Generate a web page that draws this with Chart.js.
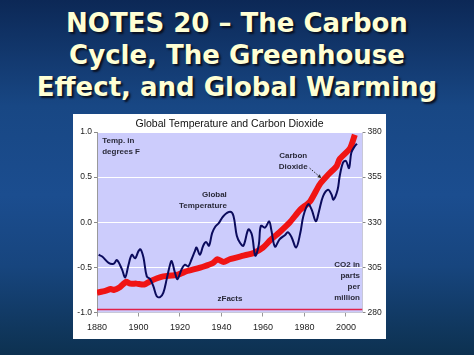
<!DOCTYPE html>
<html>
<head>
<meta charset="utf-8">
<script src="https://cdn.jsdelivr.net/npm/chart.js@4/dist/chart.umd.min.js"></script>
<style>
  html, body { margin: 0; padding: 0; }
  body {
    width: 474px; height: 355px; overflow: hidden; position: relative;
    background: linear-gradient(180deg, #0c2856 0%, #184784 30%, #1b4d8f 55%, #17457e 75%, #0d3150 100%);
  }
  #title {
    position: absolute; left: 0; top: 8px; width: 474px; text-align: center;
    font-family: "DejaVu Sans", sans-serif; font-weight: bold; font-size: 26px;
    line-height: 31.8px; color: #ffffd4; text-shadow: 2px 2px 2px #0a1020;
  }
  #box {
    position: absolute; left: 73px; top: 114px; width: 313px; height: 225px;
    background: #ffffff;
  }
  canvas { display: block; }
</style>
</head>
<body>
<div id="title">NOTES 20 – The Carbon<br>Cycle, The Greenhouse<br>Effect, and Global Warming</div>
<div id="box"><canvas id="c" width="313" height="225"></canvas></div>
<script>
// ---- data ----
const tempYears = [1880.8,1882.5,1885.6,1888,1889.6,1892,1893.6,1895.2,1896.8,1898.4,1900,1901,1902.4,1904,1905.6,1907.2,1908.8,1910.4,1912,1913.6,1915.2,1916,1917.6,1918.8,1920.8,1922.4,1924,1925.6,1927.2,1928,1929.6,1931.2,1932.6,1934,1935.5,1937,1938.7,1941,1944.2,1945.8,1947.4,1949,1950.6,1953,1954.7,1956.3,1958,1959,1961,1963,1964,1965.8,1968,1970.7,1972,1973.7,1976,1978,1979.5,1981.8,1983.5,1985.5,1987,1989,1991.4,1993,1994,1996,1997,1998.6,2000,2001.5,2002.6,2004.2,2005.3];
const tempValues = [-0.36,-0.38,-0.45,-0.46,-0.42,-0.52,-0.61,-0.47,-0.36,-0.40,-0.32,-0.30,-0.39,-0.60,-0.63,-0.71,-0.82,-0.83,-0.78,-0.63,-0.47,-0.43,-0.56,-0.63,-0.52,-0.47,-0.49,-0.41,-0.32,-0.28,-0.36,-0.26,-0.22,-0.26,-0.12,-0.05,-0.01,0.07,0.115,0.07,-0.15,-0.23,-0.26,-0.08,-0.14,-0.37,-0.25,-0.04,-0.06,0.01,-0.08,-0.27,-0.19,-0.14,-0.11,-0.16,-0.28,-0.12,0.07,0.20,0.14,0.01,0.12,0.29,0.36,0.31,0.25,0.36,0.51,0.66,0.68,0.60,0.77,0.84,0.87];

const co2Years = [1880,1884,1886.7,1888,1891,1894,1896,1899,1902.7,1906,1909,1912,1916,1919,1923.5,1927,1931.5,1936,1938,1941,1944,1950.6,1955.5,1960,1963.5,1968,1973,1978,1982.7,1987.4,1992,1995.5,1997,2002,2004.3];
const co2Values = [291,292,293,292.5,294,297,296,296,295.5,297.5,299,300,300.5,301,303,304,305.5,307.5,309.5,308,309.5,311.5,313,316,320,324.5,330,337,341.5,351,357,361,365,371,378.5];

const refYears = [1880, 2008];
const refValues = [281.7, 281.7];

const xTickValues = [1880,1900,1920,1940,1960,1980,2000];
const tempTickValues = [-1.0,-0.5,0.0,0.5,1.0];
const co2TickValues = [280,305,330,355,380];

const chartTitle = 'Global Temperature and Carbon Dioxide';
const seriesNames = ['Global Temperature', 'Carbon Dioxide', 'Pre-industrial'];

// ---- chart ----
const toXY = (xs, ys) => xs.map((x, i) => ({ x: x, y: ys[i] }));

const notes = [
  { lines: ['Temp. in', 'degrees F'], x: 1882.5, y: 0.905, align: 'left' },
  { lines: ['Global', 'Temperature'], x: 1942.6, y: 0.30, align: 'right' },
  { lines: ['Carbon', 'Dioxide'], x: 1974.6, y: 0.74, align: 'center' },
  { lines: ['CO2 in', 'parts', 'per', 'million'], x: 2006.8, y: -0.475, align: 'right' },
  { lines: ['zFacts'], x: 1944.1, y: -0.853, align: 'center' }
];
const arrow = { x0: 1982.5, y0: 0.60, x1: 1988.1, y1: 0.49 };

const bgPlugin = {
  id: 'plotBg',
  beforeDraw(chart) {
    const a = chart.chartArea, ctx = chart.ctx;
    ctx.save();
    ctx.fillStyle = '#ccccfc';
    ctx.fillRect(a.left, a.top, a.right - a.left, a.bottom - a.top);
    ctx.restore();
  }
};

const notePlugin = {
  id: 'notes',
  afterDatasetsDraw(chart) {
    const ctx = chart.ctx, xs = chart.scales.x, ys = chart.scales.y;
    ctx.save();
    ctx.fillStyle = '#2a2a3a';
    ctx.font = 'bold 8px "Liberation Sans", Arial, sans-serif';
    ctx.textBaseline = 'middle';
    notes.forEach(n => {
      const px = xs.getPixelForValue(n.x), py = ys.getPixelForValue(n.y);
      ctx.textAlign = n.align;
      n.lines.forEach((t, i) => ctx.fillText(t, px, py + i * 11));
    });
    const ax0 = xs.getPixelForValue(arrow.x0), ay0 = ys.getPixelForValue(arrow.y0);
    const ax1 = xs.getPixelForValue(arrow.x1), ay1 = ys.getPixelForValue(arrow.y1);
    ctx.strokeStyle = '#222';
    ctx.lineWidth = 1;
    ctx.setLineDash([1.5, 1.5]);
    ctx.beginPath(); ctx.moveTo(ax0, ay0); ctx.lineTo(ax1, ay1); ctx.stroke();
    ctx.setLineDash([]);
    const ang = Math.atan2(ay1 - ay0, ax1 - ax0);
    ctx.fillStyle = '#222';
    ctx.beginPath();
    ctx.moveTo(ax1, ay1);
    ctx.lineTo(ax1 - 4 * Math.cos(ang - 0.5), ay1 - 4 * Math.sin(ang - 0.5));
    ctx.lineTo(ax1 - 4 * Math.cos(ang + 0.5), ay1 - 4 * Math.sin(ang + 0.5));
    ctx.closePath(); ctx.fill();
    ctx.restore();
  }
};

const tickFont = { family: '"Liberation Sans", Arial, sans-serif', size: 8.5 };

new Chart(document.getElementById('c'), {
  type: 'line',
  data: {
    datasets: [
      { label: seriesNames[0], data: toXY(tempYears, tempValues), yAxisID: 'y',
        borderColor: '#0b0b5c', borderWidth: 2, pointRadius: 0, tension: 0.35 },
      { label: seriesNames[1], data: toXY(co2Years, co2Values), yAxisID: 'y2',
        borderColor: '#f01414', borderWidth: 6, pointRadius: 0, tension: 0.2 },
      { label: seriesNames[2], data: toXY(refYears, refValues), yAxisID: 'y2',
        borderColor: '#e0204a', borderWidth: 1.5, pointRadius: 0 }
    ]
  },
  options: {
    responsive: false, animation: false,
    layout: { padding: 0 },
    plugins: {
      legend: { display: false }, tooltip: { enabled: false },
      title: { display: true, text: chartTitle, color: '#111',
        font: { family: '"Liberation Sans", Arial, sans-serif', size: 10.5, weight: 'normal' },
        padding: { top: 4, bottom: 1.4 } }
    },
    scales: {
      x: { type: 'linear', min: 1880, max: 2008,
        afterBuildTicks: s => { s.ticks = xTickValues.map(v => ({ value: v })); },
        afterFit: s => { s.height = 26.5; },
        ticks: { color: '#222', font: { family: '"Liberation Sans", Arial, sans-serif', size: 9 }, padding: 6, maxRotation: 0,
          callback: v => String(v) },
        grid: { drawOnChartArea: false, drawTicks: true, tickLength: 4, color: '#999' },
        border: { color: '#c8c8d8' } },
      y: { position: 'left', min: -1, max: 1,
        afterBuildTicks: s => { s.ticks = tempTickValues.map(v => ({ value: v })); },
        afterFit: s => { s.width = 24; },
        ticks: { color: '#222', font: tickFont, padding: 2, callback: v => v.toFixed(1) },
        grid: { color: '#ffffff', lineWidth: 1, tickLength: 3, tickColor: '#888' },
        border: { color: '#999' } },
      y2: { position: 'right', min: 280, max: 380,
        afterBuildTicks: s => { s.ticks = co2TickValues.map(v => ({ value: v })); },
        afterFit: s => { s.width = 23.5; },
        ticks: { color: '#222', font: tickFont, padding: 2, callback: v => String(v) },
        grid: { drawOnChartArea: false, tickLength: 3, color: '#888' },
        border: { color: '#c8c8d8' } }
    }
  },
  plugins: [bgPlugin, notePlugin]
});
</script>
</body>
</html>
